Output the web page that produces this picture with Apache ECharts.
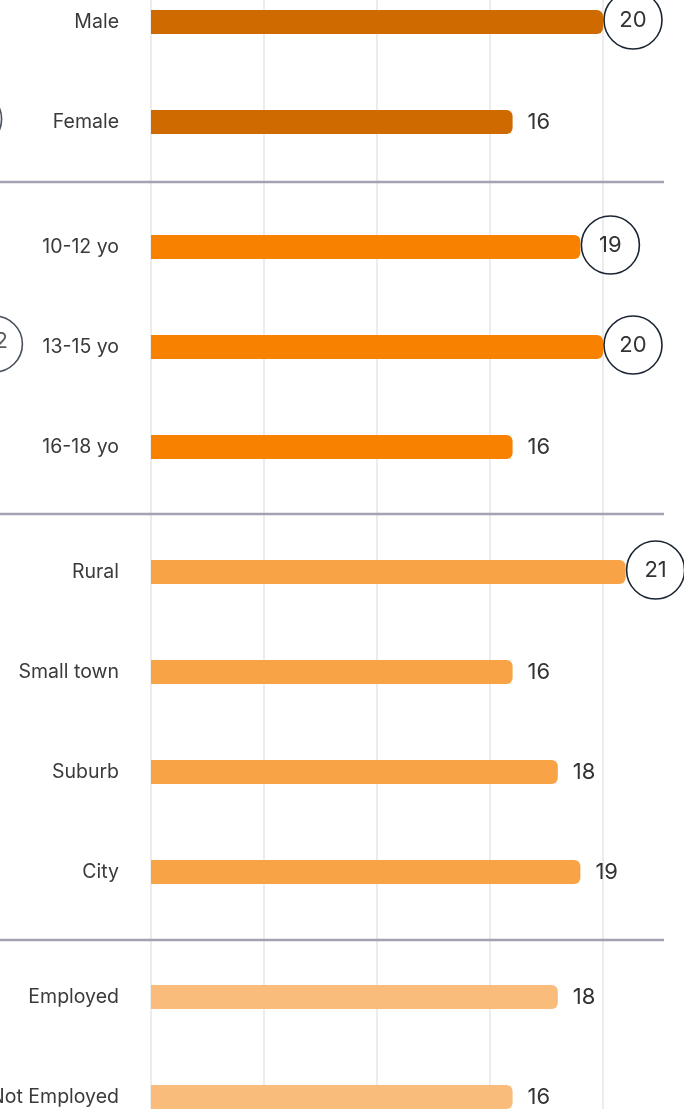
<!DOCTYPE html>
<html>
<head>
<meta charset="utf-8">
<script src="https://cdn.jsdelivr.net/npm/echarts@6/dist/echarts.min.js"></script>
<style>
  html, body { margin: 0; padding: 0; width: 684px; height: 1109px; overflow: hidden; background: #fff; }
  /* the chart is larger than the window: left panel and right end are cropped like in the source */
  #chart { position: absolute; left: -120px; top: -60px; width: 864px; height: 1229px; }
</style>
</head>
<body>
<div id="chart"></div>
<script>
// data per group
const genderLabels = ['Male', 'Female'];
const genderValues = [20, 16];
const genderCircled = [true, false];

const ageLabels = ['10-12 yo', '13-15 yo', '16-18 yo'];
const ageValues = [19, 20, 16];
const ageCircled = [true, true, false];

const areaLabels = ['Rural', 'Small town', 'Suburb', 'City'];
const areaValues = [21, 16, 18, 19];
const areaCircled = [true, false, false, false];

const workLabels = ['Employed', 'Not Employed'];
const workValues = [18, 16];
const workCircled = [false, false];

// circled values of the (cropped) left panel
const leftGenderRow = 'Female';
const leftGenderValue = 18;
const leftAgeRow = '13-15 yo';
const leftAgeValue = 22;

const axisMin = 0;
const axisMax = 25;
const axisStep = 5;

const font = 'Inter, "Open Sans", sans-serif';
const textColor = '#333';
const ringColor = '#1a2433';

let chart = echarts.init(document.getElementById('chart'));
window.addEventListener('resize', function () {
  chart.resize();
});

// grid placement (container px), one grid per group
const groups = [
  { labels: genderLabels, values: genderValues, circled: genderCircled, color: '#CF6A00', top: 32, height: 200 },
  { labels: ageLabels, values: ageValues, circled: ageCircled, color: '#F88200', top: 257, height: 300 },
  { labels: areaLabels, values: areaValues, circled: areaCircled, color: '#F9A347', top: 582, height: 400 },
  { labels: workLabels, values: workValues, circled: workCircled, color: '#F9BC7A', top: 1007, height: 200 }
];

const grids = [{ left: 271, right: 28, top: 0, bottom: 0 }]; // background grid, only split lines
const xAxes = [{
  gridIndex: 0, type: 'value', min: axisMin, max: axisMax, interval: axisStep,
  axisLine: { show: false }, axisTick: { show: false }, axisLabel: { show: false },
  splitLine: { show: true, lineStyle: { color: '#ececec', width: 2 } }
}];
const yAxes = [{ gridIndex: 0, type: 'value', show: false }];
const series = [];

groups.forEach(function (g, i) {
  const gi = i + 1;
  grids.push({ left: 271, right: 28, top: g.top, height: g.height });
  xAxes.push({ gridIndex: gi, type: 'value', min: axisMin, max: axisMax, show: false });
  yAxes.push({
    gridIndex: gi, type: 'category', inverse: true, data: g.labels,
    axisLine: { show: false }, axisTick: { show: false }, splitLine: { show: false },
    axisLabel: { fontSize: 19.5, color: '#3a3a3a', fontFamily: font, margin: 32, padding: [0, 0, 3, 0] }
  });
  series.push({
    type: 'bar', xAxisIndex: gi, yAxisIndex: gi, barWidth: 24,
    itemStyle: { color: g.color, borderRadius: [0, 6, 6, 0] },
    label: { show: true, position: 'right', distance: 15, fontSize: 22, color: textColor, fontFamily: font },
    data: g.values.map(function (v, k) {
      if (!g.circled[k]) return v;
      return {
        value: v,
        label: {
          distance: 1,
          offset: [0, -2],
          formatter: '{c|{c}}',
          rich: {
            c: {
              width: 58, height: 58, lineHeight: 58, align: 'center',
              borderColor: ringColor, borderWidth: 1.6, borderRadius: 29,
              fontSize: 22, color: textColor, fontFamily: font
            }
          }
        }
      };
    })
  });
});

// cropped left panel circles
[[groups[0], leftGenderRow, leftGenderValue], [groups[1], leftAgeRow, leftAgeValue]].forEach(function (d) {
  const gi = grids.length;
  grids.push({ left: 0, width: 130, top: d[0].top, height: d[0].height });
  xAxes.push({ gridIndex: gi, type: 'value', min: axisMin, max: axisMax, show: false });
  yAxes.push({ gridIndex: gi, type: 'category', inverse: true, data: d[0].labels, show: false });
  series.push({
    type: 'scatter', xAxisIndex: gi, yAxisIndex: gi, clip: false,
    symbolSize: 56, symbolOffset: [0, -3],
    itemStyle: { color: '#fff', borderColor: ringColor, borderWidth: 1.6 },
    label: { show: true, position: 'inside', offset: [0, -3], fontSize: 22, color: textColor, fontFamily: font,
      formatter: function (p) { return p.value[0]; } },
    data: [[d[2], d[1]]]
  });
});

let option = {
  animation: false,
  grid: grids,
  xAxis: xAxes,
  yAxis: yAxes,
  series: series,
  graphic: [242, 574, 1000].map(function (y) {
    return {
      type: 'line', z: 100,
      shape: { x1: 0, y1: y, x2: 784, y2: y },
      style: { stroke: '#a3a2b4', lineWidth: 2.5 }
    };
  })
};
chart.setOption(option, true);
</script>
</body>
</html>
